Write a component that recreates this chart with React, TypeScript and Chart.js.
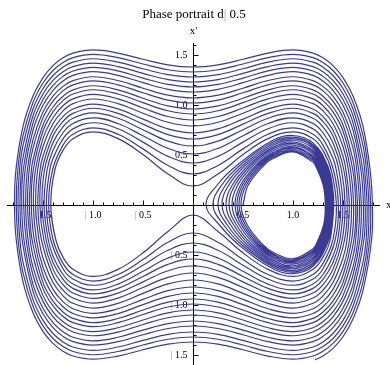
import { useEffect, useRef } from "react";
import { Chart, registerables } from "chart.js";

Chart.register(...registerables);

// ---------------- trajectory data (x, x') ----------------
// Loops trapped in the right well, innermost first.
// Left turning point of each loop on the x axis.
const innerVertexX = [0.50, 0.48, 0.46, 0.44, 0.42, 0.39, 0.36, 0.33, 0.29, 0.25, 0.20, 0.13];
// Upper arcs of the right-well loops.
const innerUpLeftX02 = [0.5527, 0.5331, 0.5139, 0.4947, 0.4758, 0.4480, 0.4205, 0.3937, 0.3590, 0.3259, 0.2874, 0.2419];
const innerUpLeftX04 = [0.7125, 0.6914, 0.6714, 0.6521, 0.6335, 0.6070, 0.5818, 0.5581, 0.5289, 0.5025, 0.4737, 0.4427];
const innerUpY08 = [0.4652, 0.4810, 0.4960, 0.5103, 0.5238, 0.5428, 0.5604, 0.5764, 0.5955, 0.6120, 0.6293, 0.6468];
const innerUpY10 = [0.5303, 0.5442, 0.5575, 0.5703, 0.5824, 0.5995, 0.6155, 0.6301, 0.6476, 0.6629, 0.6788, 0.6951];
const innerUpY12 = [0.4294, 0.4465, 0.4626, 0.4779, 0.4923, 0.5124, 0.5310, 0.5479, 0.5680, 0.5853, 0.6033, 0.6216];
const innerUpRightX04 = [1.2216, 1.2336, 1.2447, 1.2549, 1.2644, 1.2773, 1.2890, 1.2994, 1.3116, 1.3219, 1.3325, 1.3431];
const innerUpRightX02 = [1.3017, 1.3099, 1.3175, 1.3249, 1.3318, 1.3414, 1.3503, 1.3583, 1.3679, 1.3762, 1.3847, 1.3934];
const innerRightCrossX = [1.3228, 1.3303, 1.3373, 1.3441, 1.3505, 1.3594, 1.3676, 1.3752, 1.3842, 1.3920, 1.4000, 1.4081];
// Lower arcs of the right-well loops (after the last one the path leaves the well).
const innerLowLeftX02 = [0.5431, 0.5236, 0.5043, 0.4853, 0.4622, 0.4345, 0.4074, 0.3767, 0.3428, 0.3074, 0.2655];
const innerLowLeftX04 = [0.7021, 0.6815, 0.6617, 0.6427, 0.6204, 0.5946, 0.5701, 0.5435, 0.5158, 0.4883, 0.4584];
const innerLowY08 = [0.4731, 0.4885, 0.5032, 0.5171, 0.5333, 0.5515, 0.5683, 0.5860, 0.6038, 0.6206, 0.6381];
const innerLowY10 = [0.5372, 0.5508, 0.5639, 0.5764, 0.5909, 0.6075, 0.6227, 0.6389, 0.6553, 0.6708, 0.6870];
const innerLowY12 = [0.4380, 0.4545, 0.4703, 0.4852, 0.5024, 0.5217, 0.5394, 0.5580, 0.5767, 0.5943, 0.6125];
const innerLowRightX04 = [1.2276, 1.2392, 1.2498, 1.2597, 1.2709, 1.2832, 1.2942, 1.3056, 1.3168, 1.3273, 1.3379];
const innerLowRightX02 = [1.3058, 1.3137, 1.3213, 1.3283, 1.3366, 1.3458, 1.3543, 1.3631, 1.3720, 1.3804, 1.3891];

// Loops around both wells. Lower arcs: depth below the x axis at |x| = 0 ... 1.7
const lowY0 = [0.10, 0.28, 0.38, 0.47, 0.54, 0.61, 0.68, 0.75, 0.82, 0.88, 0.94, 0.99, 1.05, 1.10, 1.16, 1.21, 1.27, 1.32, 1.37];
const lowY025 = [0.2655, 0.3727, 0.4527, 0.5305, 0.5934, 0.6577, 0.7231, 0.7893, 0.8561, 0.9137, 0.9717, 1.0201, 1.0784, 1.1272, 1.1858, 1.2347, 1.2936, 1.3427, 1.3919];
const lowY05 = [0.4783, 0.5452, 0.6027, 0.6631, 0.7144, 0.7687, 0.8254, 0.8839, 0.9440, 0.9966, 1.0500, 1.0949, 1.1495, 1.1953, 1.2508, 1.2973, 1.3534, 1.4004, 1.4477];
const lowY075 = [0.6437, 0.6948, 0.7407, 0.7907, 0.8342, 0.8811, 0.9310, 0.9833, 1.0376, 1.0857, 1.1349, 1.1766, 1.2275, 1.2706, 1.3228, 1.3669, 1.4203, 1.4652, 1.5104];
const lowY10 = [0.7141, 0.7605, 0.8027, 0.8491, 0.8897, 0.9339, 0.9810, 1.0308, 1.0828, 1.1289, 1.1763, 1.2166, 1.2659, 1.3077, 1.3585, 1.4015, 1.4536, 1.4975, 1.5417];
const lowY12 = [0.6428, 0.6940, 0.7400, 0.7900, 0.8335, 0.8805, 0.9304, 0.9827, 1.0371, 1.0852, 1.1344, 1.1761, 1.2271, 1.2701, 1.3224, 1.3665, 1.4199, 1.4648, 1.5100];
const lowY13 = [0.5215, 0.5834, 0.6375, 0.6949, 0.7440, 0.7963, 0.8511, 0.9080, 0.9666, 1.0180, 1.0703, 1.1145, 1.1681, 1.2132, 1.2679, 1.3138, 1.3693, 1.4158, 1.4625];
const lowY14 = [null, null, null, 0.5100, 0.5752, 0.6413, 0.7082, 0.7757, 0.8436, 0.9020, 0.9606, 1.0096, 1.0685, 1.1177, 1.1768, 1.2261, 1.2853, 1.3348, 1.3842];
const lowY15 = [null, null, null, null, null, null, null, 0.5303, 0.6254, 0.7022, 0.7761, 0.8360, 0.9062, 0.9637, 1.0317, 1.0876, 1.1540, 1.2088, 1.2632];
const lowY16 = [null, null, null, null, null, null, null, null, null, null, null, 0.5131, 0.6211, 0.7023, 0.7930, 0.8645, 0.9466, 1.0127, 1.0771];
const lowY17 = [null, null, null, null, null, null, null, null, null, null, null, null, null, null, null, null, 0.5717, 0.6755, 0.7687];
// |x| where each lower arc passes x' = -0.35 near its ends
const lowSide035 = [1.3712, 1.3982, 1.4218, 1.4471, 1.4686, 1.4914, 1.5153, 1.5400, 1.5652, 1.5868, 1.6088, 1.6271, 1.6493, 1.6679, 1.6902, 1.7087, 1.7307, 1.7490, 1.7673];

// Upper arcs: height above the x axis at |x| = 0 ... 1.7
const upY0 = [0.19, 0.31, 0.42, 0.51, 0.59, 0.66, 0.72, 0.79, 0.85, 0.91, 0.96, 1.02, 1.07, 1.13, 1.18, 1.23, 1.28, 1.33, 1.38];
const upY025 = [0.3108, 0.3957, 0.4867, 0.5662, 0.6392, 0.7043, 0.7609, 0.8274, 0.8849, 0.9427, 0.9910, 1.0492, 1.0979, 1.1565, 1.2054, 1.2544, 1.3034, 1.3526, 1.4018];
const upY05 = [0.5049, 0.5612, 0.6287, 0.6920, 0.7529, 0.8089, 0.8586, 0.9181, 0.9702, 1.0232, 1.0679, 1.1221, 1.1678, 1.2230, 1.2693, 1.3160, 1.3628, 1.4099, 1.4571];
const upY075 = [0.6636, 0.7074, 0.7620, 0.8151, 0.8674, 0.9165, 0.9606, 1.0141, 1.0615, 1.1101, 1.1515, 1.2020, 1.2447, 1.2966, 1.3404, 1.3846, 1.4292, 1.4742, 1.5194];
const upY10 = [0.7322, 0.7721, 0.8224, 0.8718, 0.9209, 0.9673, 1.0092, 1.0602, 1.1057, 1.1524, 1.1923, 1.2411, 1.2825, 1.3330, 1.3756, 1.4188, 1.4623, 1.5063, 1.5506];
const upY12 = [0.6628, 0.7066, 0.7613, 0.8144, 0.8668, 0.9159, 0.9600, 1.0136, 1.0610, 1.1096, 1.1510, 1.2015, 1.2442, 1.2962, 1.3400, 1.3842, 1.4288, 1.4738, 1.5191];
const upY13 = [0.5459, 0.5984, 0.6621, 0.7225, 0.7811, 0.8352, 0.8834, 0.9413, 0.9922, 1.0441, 1.0879, 1.1412, 1.1861, 1.2405, 1.2862, 1.3322, 1.3785, 1.4251, 1.4719];
const upY14 = [null, null, 0.4643, 0.5471, 0.6223, 0.6891, 0.7467, 0.8144, 0.8728, 0.9313, 0.9802, 1.0390, 1.0882, 1.1472, 1.1965, 1.2458, 1.2952, 1.3447, 1.3941];
const upY15 = [null, null, null, null, null, null, 0.4870, 0.5855, 0.6643, 0.7395, 0.8002, 0.8713, 0.9293, 0.9978, 1.0541, 1.1098, 1.1650, 1.2197, 1.2740];
const upY16 = [null, null, null, null, null, null, null, null, null, null, 0.4525, 0.5689, 0.6543, 0.7484, 0.8219, 0.8922, 0.9600, 1.0257, 1.0898];
const upY17 = [null, null, null, null, null, null, null, null, null, null, null, null, null, null, null, 0.4763, 0.5936, 0.6949, 0.7864];
// |x| where each upper arc passes x' = 0.35 near its ends
const upSide035 = [1.3817, 1.4047, 1.4327, 1.4592, 1.4848, 1.5084, 1.5292, 1.5543, 1.5759, 1.5979, 1.6161, 1.6382, 1.6568, 1.6791, 1.6976, 1.7161, 1.7343, 1.7526, 1.7709];

// Where each outer loop meets the x axis on the left (|x|) and on the right.
const leftCrossX = [1.4222, 1.4435, 1.4662, 1.4890, 1.5101, 1.5311, 1.5516, 1.5743, 1.5961, 1.6165, 1.6355, 1.6546, 1.6739, 1.6933, 1.7129, 1.7303, 1.7498, 1.7675, 1.7850];
const rightCrossX = [1.4337, 1.4539, 1.4773, 1.4984, 1.5203, 1.5420, 1.5627, 1.5859, 1.6063, 1.6269, 1.6442, 1.6652, 1.6828, 1.7040, 1.7216, 1.7410, 1.7586, 1.7763, 1.7940];

// Last stretch down the right side, ending at the lower right.
const tailX = [1.7856, 1.7, 1.6, 1.5, 1.4, 1.3, 1.22];
const tailY = [-0.35, -0.8546, -1.14, -1.3172, -1.4337, -1.5094, -1.548];

// Axis tick labels
const xTickValues = [-1.5, -1.0, -0.5, 0.5, 1.0, 1.5];
const xTickLabels = ["| 1.5", "| 1.0", "| 0.5", "0.5", "1.0", "1.5"];
const yTickValues = [-1.5, -1.0, -0.5, 0.5, 1.0, 1.5];
const yTickLabels = ["| 1.5", "| 1.0", "| 0.5", "0.5", "1.0", "1.5"];

const TITLE = ["Phase portrait d", "|", " 0.5"];

// ---------------- drawing settings ----------------
const X_MIN = -1.93;
const X_MAX = 1.97;
const Y_MIN = -1.6;
const Y_MAX = 1.65;
const LINE_COLOR = "#3a3a96";
const GLYPH_GRAY = "#a0a0a0";
const FONT = "'Liberation Serif', 'Times New Roman', serif";

type Pt = { x: number; y: number };
type MaybeNum = number | null;

function buildTrajectory(): Pt[] {
  const pts: Pt[] = [];
  const push = (x: number, y: number) => pts.push({ x, y });

  for (let k = 0; k < innerVertexX.length; k++) {
    push(innerVertexX[k], 0);
    push(innerUpLeftX02[k], 0.2);
    push(innerUpLeftX04[k], 0.4);
    push(0.8, innerUpY08[k]);
    push(1.0, innerUpY10[k]);
    push(1.2, innerUpY12[k]);
    push(innerUpRightX04[k], 0.4);
    push(innerUpRightX02[k], 0.2);
    push(innerRightCrossX[k], 0);
    if (k < innerLowY10.length) {
      push(innerLowRightX02[k], -0.2);
      push(innerLowRightX04[k], -0.4);
      push(1.2, -innerLowY12[k]);
      push(1.0, -innerLowY10[k]);
      push(0.8, -innerLowY08[k]);
      push(innerLowLeftX04[k], -0.4);
      push(innerLowLeftX02[k], -0.2);
    }
  }

  // sample abscissas of each arc, from the centre outwards
  const xs = [0.25, 0.5, 0.75, 1.0, 1.2, 1.3, 1.4, 1.5, 1.6, 1.7];
  for (let k = 0; k < lowY0.length; k++) {
    const low: MaybeNum[] = [lowY025[k], lowY05[k], lowY075[k], lowY10[k], lowY12[k], lowY13[k], lowY14[k], lowY15[k], lowY16[k], lowY17[k]];
    const up: MaybeNum[] = [upY025[k], upY05[k], upY075[k], upY10[k], upY12[k], upY13[k], upY14[k], upY15[k], upY16[k], upY17[k]];

    // lower arc, travelling right to left
    push(lowSide035[k], -0.35);
    for (let i = xs.length - 1; i >= 0; i--) if (low[i] != null) push(xs[i], -(low[i] as number));
    push(0, -lowY0[k]);
    for (let i = 0; i < xs.length; i++) if (low[i] != null) push(-xs[i], -(low[i] as number));
    push(-lowSide035[k], -0.35);
    push(-leftCrossX[k], 0);

    // upper arc, travelling left to right
    push(-upSide035[k], 0.35);
    for (let i = xs.length - 1; i >= 0; i--) if (up[i] != null) push(-xs[i], up[i] as number);
    push(0, upY0[k]);
    for (let i = 0; i < xs.length; i++) if (up[i] != null) push(xs[i], up[i] as number);
    push(upSide035[k], 0.35);
    push(rightCrossX[k], 0);
  }

  for (let i = 0; i < tailX.length; i++) push(tailX[i], tailY[i]);
  return pts;
}

type Piece = { text: string; color: string };

function piecesFor(label: string): Piece[] {
  if (label.startsWith("|")) {
    return [
      { text: "|", color: GLYPH_GRAY },
      { text: label.slice(1), color: "#000" },
    ];
  }
  return [{ text: label, color: "#000" }];
}

function drawPieces(
  ctx: CanvasRenderingContext2D,
  pieces: Piece[],
  x: number,
  y: number,
  align: "left" | "center" | "right"
) {
  const widths = pieces.map((p) => ctx.measureText(p.text).width);
  const total = widths.reduce((a, b) => a + b, 0);
  let cx = align === "center" ? x - total / 2 : align === "right" ? x - total : x;
  ctx.textAlign = "left";
  pieces.forEach((p, i) => {
    ctx.fillStyle = p.color;
    ctx.fillText(p.text, cx, y);
    cx += widths[i];
  });
}

const axesPlugin = {
  id: "phaseAxes",
  beforeDatasetsDraw(chart: any) {
    const { ctx } = chart;
    const sx = chart.scales.x;
    const sy = chart.scales.y;
    const X = (v: number) => sx.getPixelForValue(v);
    const Y = (v: number) => sy.getPixelForValue(v);
    const x0 = Math.round(X(0)) + 0.5;
    const y0 = Math.round(Y(0)) + 0.5;

    ctx.save();
    ctx.strokeStyle = "#000";
    ctx.lineWidth = 1;

    // axis lines
    ctx.beginPath();
    ctx.moveTo(X(-1.86), y0);
    ctx.lineTo(X(1.87), y0);
    ctx.moveTo(x0, Y(1.62));
    ctx.lineTo(x0, chart.height);
    ctx.stroke();

    // ticks every 0.1, longer on multiples of 0.5
    ctx.beginPath();
    for (let i = -18; i <= 18; i++) {
      if (i === 0) continue;
      const px = Math.round(X(i / 10)) + 0.5;
      const len = i % 5 === 0 ? 5 : 3;
      ctx.moveTo(px, y0);
      ctx.lineTo(px, y0 - len);
    }
    for (let i = -16; i <= 16; i++) {
      if (i === 0) continue;
      const py = Math.round(Y(i / 10)) + 0.5;
      const len = i % 5 === 0 ? 5 : 3;
      ctx.moveTo(x0, py);
      ctx.lineTo(x0 + len, py);
    }
    ctx.stroke();

    // tick labels
    ctx.font = `10px ${FONT}`;
    ctx.textBaseline = "middle";
    xTickValues.forEach((v, i) => {
      drawPieces(ctx, piecesFor(xTickLabels[i]), X(v), y0 + 10, "center");
    });
    yTickValues.forEach((v, i) => {
      drawPieces(ctx, piecesFor(yTickLabels[i]), x0 - 6, Y(v), "right");
    });

    // axis names
    ctx.font = `11px ${FONT}`;
    ctx.fillStyle = "#000";
    ctx.textAlign = "center";
    ctx.fillText("x'", x0, 31);
    ctx.textAlign = "left";
    ctx.fillText("x", 386, y0);

    // title
    ctx.font = `13px ${FONT}`;
    drawPieces(
      ctx,
      [
        { text: TITLE[0], color: "#000" },
        { text: TITLE[1], color: GLYPH_GRAY },
        { text: TITLE[2], color: "#000" },
      ],
      194,
      15,
      "center"
    );
    ctx.restore();
  },
};

export default function App() {
  const canvasRef = useRef<HTMLCanvasElement | null>(null);

  useEffect(() => {
    const canvas = canvasRef.current;
    if (!canvas) return;
    const chart = new Chart(canvas, {
      type: "scatter",
      data: {
        datasets: [
          {
            data: buildTrajectory(),
            showLine: true,
            borderColor: LINE_COLOR,
            borderWidth: 1.2,
            pointRadius: 0,
            pointHoverRadius: 0,
            tension: 0.4,
            fill: false,
          },
        ],
      },
      options: {
        responsive: false,
        animation: false,
        events: [],
        layout: { padding: { top: 40, left: 0, right: 0, bottom: 0 } },
        scales: {
          x: { type: "linear", min: X_MIN, max: X_MAX, display: false },
          y: { type: "linear", min: Y_MIN, max: Y_MAX, display: false },
        },
        plugins: {
          legend: { display: false },
          tooltip: { enabled: false },
          title: { display: false },
        },
      },
      plugins: [axesPlugin],
    });
    return () => chart.destroy();
  }, []);

  return (
    <div style={{ position: "fixed", left: 0, top: 0, width: 390, height: 365, background: "#fff" }}>
      <canvas ref={canvasRef} width={390} height={365} style={{ display: "block" }} />
    </div>
  );
}
